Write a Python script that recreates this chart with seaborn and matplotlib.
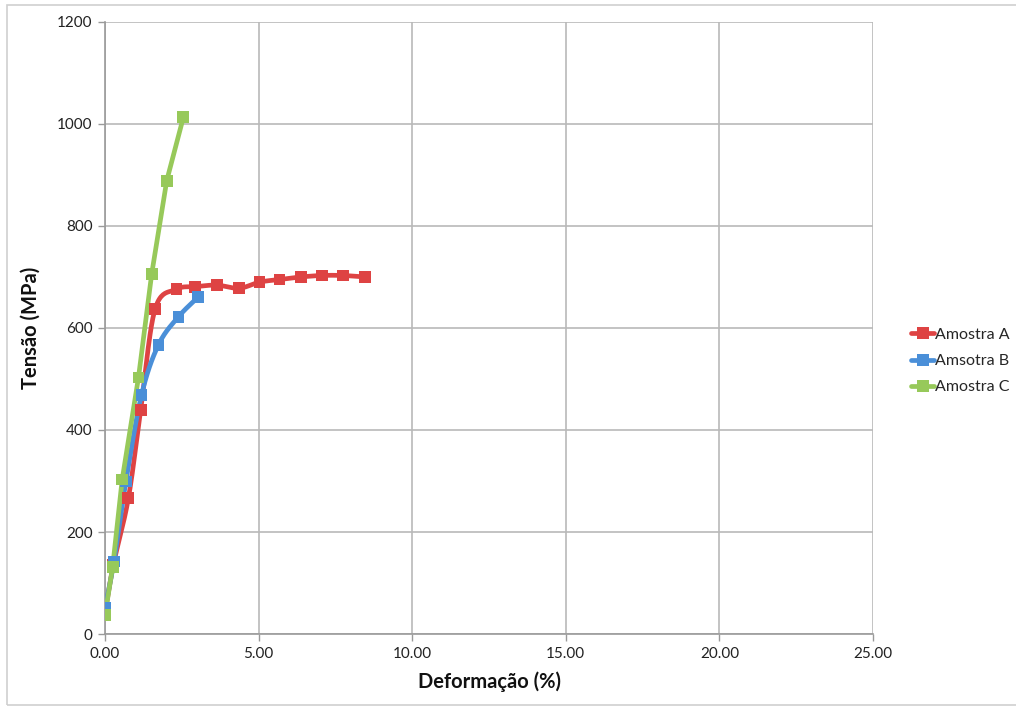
import numpy as np
import pandas as pd
import matplotlib
matplotlib.use("Agg")
import matplotlib.pyplot as plt
from matplotlib.lines import Line2D
from matplotlib.patches import Rectangle
import seaborn as sns

# Tensile test results: strain (%) vs stress (MPa)
strain_a = [0.00, 0.27, 0.76, 1.16, 1.63, 2.33, 2.93, 3.64, 4.37, 5.03, 5.68, 6.37, 7.06, 7.74, 8.47]
stress_a = [40, 135, 266, 439, 637, 676, 681, 684, 678, 690, 695, 700, 703, 703, 700]

strain_b = [0.00, 0.29, 0.68, 1.19, 1.74, 2.39, 3.04]
stress_b = [51, 142, 299, 469, 567, 622, 661]

strain_c = [0.00, 0.25, 0.56, 1.09, 1.52, 2.01, 2.55]
stress_c = [37, 132, 303, 503, 706, 889, 1013]

series_names = ["Amostra A", "Amsotra B", "Amostra C"]
colors = ["#DE4343", "#4A8FD8", "#97C95A"]
smooth = [True, True, False]

x_ticks = [0, 5, 10, 15, 20, 25]
y_ticks = [0, 200, 400, 600, 800, 1000, 1200]


def smooth_curve(x, y, n=24):
    """Catmull-Rom style Bezier smoothing through the points."""
    x = np.asarray(x, float)
    y = np.asarray(y, float)
    pts = np.column_stack([x, y])
    out = [pts[0]]
    for i in range(len(pts) - 1):
        p0 = pts[i - 1] if i > 0 else pts[i]
        p1 = pts[i]
        p2 = pts[i + 1]
        p3 = pts[i + 2] if i + 2 < len(pts) else pts[i + 1]
        c1 = p1 + (p2 - p0) / 6.0
        c2 = p2 - (p3 - p1) / 6.0
        t = np.linspace(0, 1, n)[1:, None]
        seg = ((1 - t) ** 3) * p1 + 3 * ((1 - t) ** 2) * t * c1 + 3 * (1 - t) * t ** 2 * c2 + t ** 3 * p2
        out.extend(seg)
    out = np.array(out)
    return out[:, 0], out[:, 1]


sns.set_theme(style="white")
plt.rcParams["font.family"] = ["Lato", "DejaVu Sans"]

fig = plt.figure(figsize=(10.16, 7.11), dpi=100)
fig.patches.append(Rectangle((7 / 1016, 6 / 711), 1.2, 1 - 11 / 711, transform=fig.transFigure,
                             fill=False, edgecolor="#CFCFCF", linewidth=1.2, zorder=0))
ax = fig.add_axes([105 / 1016, 77 / 711, 768 / 1016, 612 / 711])

data = [(strain_a, stress_a), (strain_b, stress_b), (strain_c, stress_c)]
frames = []
for name, (xs, ys) in zip(series_names, data):
    frames.append(pd.DataFrame({"strain": xs, "stress": ys, "sample": name}))
points = pd.concat(frames, ignore_index=True)

curves = []
for name, (xs, ys), sm in zip(series_names, data, smooth):
    if sm:
        cx, cy = smooth_curve(xs, ys)
    else:
        cx, cy = np.asarray(xs, float), np.asarray(ys, float)
    curves.append(pd.DataFrame({"strain": cx, "stress": cy, "sample": name}))
lines = pd.concat(curves, ignore_index=True)

palette = dict(zip(series_names, colors))
sns.lineplot(data=lines, x="strain", y="stress", hue="sample", units="sample", estimator=None,
             sort=False, palette=palette, linewidth=3.4, legend=False, ax=ax, zorder=3)
sns.scatterplot(data=points, x="strain", y="stress", hue="sample", palette=palette,
                marker="s", s=72, linewidth=0, legend=False, ax=ax, zorder=4)

ax.set_xlim(0, 25)
ax.set_ylim(0, 1200)
ax.set_xticks(x_ticks)
ax.set_xticklabels([f"{v:.2f}" for v in x_ticks])
ax.set_yticks(y_ticks)
ax.set_yticklabels([str(v) for v in y_ticks])
ax.grid(True, color="#B9B9B9", linewidth=1.2)
ax.set_axisbelow(True)
for side in ["top", "right"]:
    ax.spines[side].set_visible(False)
for side in ["left", "bottom"]:
    ax.spines[side].set_color("#9A9A9A")
    ax.spines[side].set_linewidth(1.2)
ax.tick_params(axis="both", which="major", direction="out", length=5, width=1.0, color="#9A9A9A",
               labelsize=11, labelcolor="#222222", pad=4, bottom=True, left=True)

ax.set_xlabel("Deformação (%)", fontsize=14.5, fontweight="bold", color="#111111", labelpad=8)
ax.set_ylabel("Tensão (MPa)", fontsize=14.5, fontweight="bold", color="#111111", labelpad=12)

handles = [Line2D([0], [0], color=c, linewidth=3.4, marker="s", markersize=8, markeredgewidth=0)
           for c in colors]
fig.legend(handles, series_names, loc="center left", bbox_to_anchor=(897 / 1016, 1 - 361 / 711),
           frameon=False, fontsize=11.5, handlelength=1.4, handletextpad=0.05, labelspacing=0.75)

fig.savefig("out.png", dpi=100, facecolor="white")
